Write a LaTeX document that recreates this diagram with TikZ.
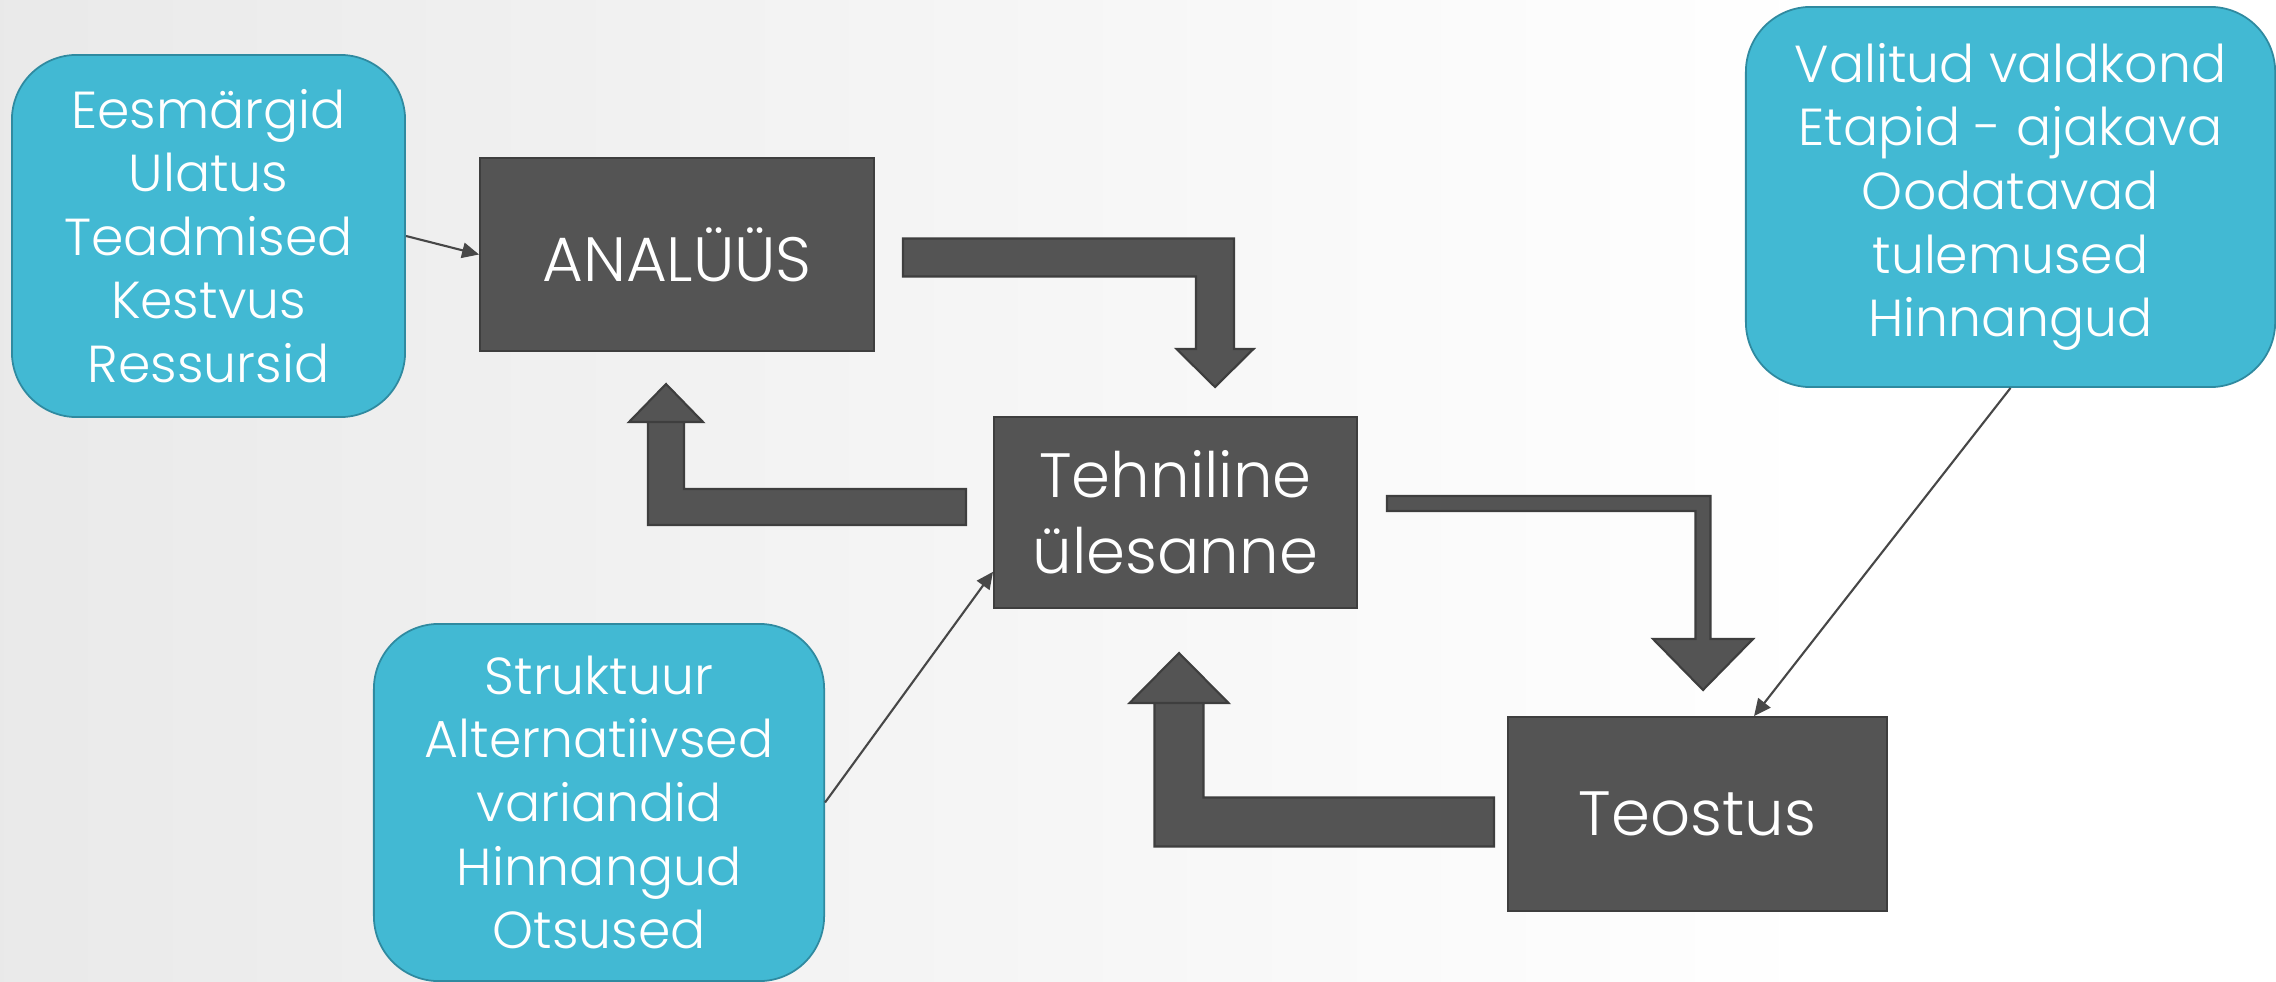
\documentclass[tikz,border=0pt]{standalone}
\usepackage{fontspec}
\setmainfont{Poppins}[UprightFont={* Light}]
\usepackage{tikz}
\usetikzlibrary{arrows.meta,calc}
\definecolor{bg}{HTML}{DCDCDC}
\definecolor{ib}{HTML}{42B9D3}
\definecolor{ibd}{HTML}{2F8AA0}
\definecolor{dk}{HTML}{545454}
\definecolor{dkd}{HTML}{3E3E3E}
\definecolor{ln}{HTML}{474747}
\pgfdeclarehorizontalshading{bgshade}{100bp}{color(0bp)=(bg); color(65bp)=(white); color(100bp)=(white)}
% bent block arrow: start, tip, half shaft, half head, head length
\newcommand{\bentarrow}[5]{%
  \filldraw[blockarr] let \p1=(#1), \p2=(#2), \n1={sign(\x2-\x1)}, \n2={sign(\y2-\y1)} in
    (\x1,{\y1-\n2*#3}) -- ({\x2+\n1*#3},{\y1-\n2*#3}) -- ({\x2+\n1*#3},{\y2-\n2*#5})
    -- ({\x2+#4},{\y2-\n2*#5}) -- (\x2,\y2) -- ({\x2-#4},{\y2-\n2*#5})
    -- ({\x2-\n1*#3},{\y2-\n2*#5}) -- ({\x2-\n1*#3},{\y1+\n2*#3}) -- (\x1,{\y1+\n2*#3}) -- cycle;}

\begin{document}
\begin{tikzpicture}[x=0.01cm, y=-0.01cm,
  info/.style={draw=ibd, fill=ib, line width=0.5pt, rounded corners=0.65cm, text=white,
    align=center, inner sep=0pt, font=\fontsize{14.8}{18.1}\selectfont},
  stage/.style={draw=dkd, fill=dk, line width=0.5pt, text=white, align=center,
    inner sep=0pt, font=\fontsize{17.8}{21.6}\selectfont},
  link/.style={draw=ln, line width=0.6pt, -{Triangle[length=4.8pt, width=4.4pt]}},
  blockarr/.style={fill=dk, draw=dkd, line width=0.6pt}]
  \useasboundingbox (0,0) rectangle (2276,982);
  \shade[shading=bgshade] (0,0) rectangle (2276,982);

  % stages
  \node[stage, minimum width=3.94cm, minimum height=1.93cm] (ana) at (677,254.5) {ANALÜÜS};
  \node[stage, minimum width=3.63cm, minimum height=1.91cm] (tech) at (1175.5,512.5) {Tehniline\\ülesanne};
  \node[stage, minimum width=3.79cm, minimum height=1.94cm] (teo) at (1697.5,814) {Teostus};

  % notes
  \node[info, minimum width=3.93cm, minimum height=3.62cm] (eesm) at (208.5,236)
    {Eesmärgid\\Ulatus\\Teadmised\\Kestvus\\Ressursid};
  \node[info, minimum width=4.50cm, minimum height=3.57cm] (struct) at (599,802.5)
    {Struktuur\\Alternatiivsed\\variandid\\Hinnangud\\Otsused};
  \node[info, minimum width=5.29cm, minimum height=3.80cm] (plan) at (2010.5,197)
    {Valitud valdkond\\Etapid - ajakava\\Oodatavad\\tulemused\\Hinnangud};

  % block arrows
  \coordinate (ana-out) at (903,257.5);   \coordinate (tech-in) at (1215,387);
  \coordinate (tech-back) at (966,507);   \coordinate (ana-in) at (666,384);
  \coordinate (tech-out) at (1387,503.5); \coordinate (teo-in) at (1703,690);
  \coordinate (teo-back) at (1494,822);   \coordinate (tech-in2) at (1179,653);
  \bentarrow{ana-out}{tech-in}{0.19cm}{0.385cm}{0.38cm}
  \bentarrow{tech-back}{ana-in}{0.18cm}{0.37cm}{0.38cm}
  \bentarrow{tech-out}{teo-in}{0.075cm}{0.5cm}{0.51cm}
  \bentarrow{teo-back}{tech-in2}{0.245cm}{0.495cm}{0.5cm}

  % links
  \draw[link] (eesm.east) -- (ana.west);
  \draw[link] (struct.east) -- (tech.198);
  \draw[link] (plan.south) -- (teo.60);
\end{tikzpicture}
\end{document}
